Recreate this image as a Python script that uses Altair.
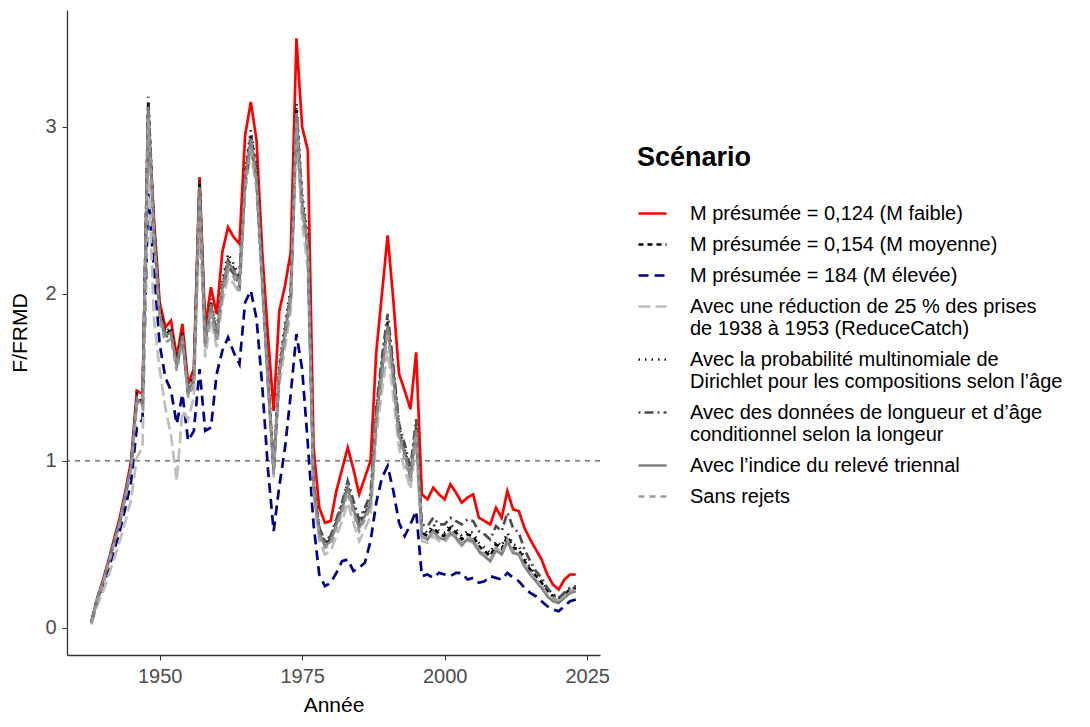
import altair as alt
import pandas as pd

years = list(range(1938, 2024))

scenarios = [
    "M présumée = 0,124 (M faible)",
    "M présumée = 0,154 (M moyenne)",
    "M présumée = 184 (M élevée)",
    "Avec une réduction de 25 % des prises|\u00a0de 1938 à 1953 (ReduceCatch)",
    "Avec la probabilité multinomiale de|Dirichlet pour les compositions selon l’âge",
    "Avec des données de longueur et d’âge|\u00a0conditionnel selon la longeur",
    "Avec l’indice du relevé triennal",
    "Sans rejets",
]
colors = ["#ff0000", "#000000", "#00008b", "#bebebe", "#1a1a1a", "#4d4d4d", "#7f7f7f", "#9a9a9a"]
dashes = [[1, 0], [5, 4], [10, 6], [12, 5], [1.5, 5], [2, 4, 9, 4], [1, 0], [6, 5]]

m_faible = [
    0.03, 0.17, 0.28, 0.40, 0.53, 0.66, 0.82, 1.00, 1.42, 1.40,
    3.05, 2.45, 1.95, 1.80, 1.84, 1.62, 1.82, 1.46, 1.55, 2.70,
    1.80, 2.04, 1.88, 2.25, 2.40, 2.34, 2.30, 2.95, 3.15, 2.92,
    2.25, 1.75, 1.30, 1.90, 2.05, 2.25, 3.53, 3.00, 2.86, 1.08,
    0.72, 0.63, 0.64, 0.82, 0.95, 1.08, 0.95, 0.80, 0.90, 1.00,
    1.65, 2.00, 2.35, 1.96, 1.52, 1.42, 1.31, 1.65, 0.80, 0.77,
    0.84, 0.80, 0.77, 0.86, 0.81, 0.75, 0.78, 0.80, 0.66, 0.64,
    0.62, 0.72, 0.66, 0.82, 0.71, 0.70, 0.60, 0.53, 0.47, 0.41,
    0.32, 0.26, 0.23, 0.29, 0.32, 0.32,
]
m_moyenne = [
    0.03, 0.17, 0.27, 0.39, 0.51, 0.64, 0.80, 0.97, 1.38, 1.35,
    3.15, 2.40, 1.90, 1.76, 1.78, 1.58, 1.76, 1.42, 1.50, 2.66,
    1.72, 1.95, 1.75, 2.05, 2.20, 2.15, 2.08, 2.70, 2.95, 2.72,
    2.10, 1.50, 0.95, 1.55, 1.78, 2.00, 3.10, 2.55, 2.30, 0.85,
    0.58, 0.50, 0.53, 0.63, 0.72, 0.85, 0.72, 0.61, 0.68, 0.75,
    1.27, 1.56, 1.83, 1.52, 1.17, 1.05, 0.91, 1.20, 0.57, 0.55,
    0.60, 0.56, 0.55, 0.60, 0.57, 0.53, 0.56, 0.55, 0.49, 0.46,
    0.43, 0.50, 0.47, 0.55, 0.48, 0.47, 0.40, 0.35, 0.31, 0.27,
    0.22, 0.19, 0.17, 0.20, 0.23, 0.24,
]
m_elevee = [
    0.03, 0.15, 0.24, 0.35, 0.46, 0.58, 0.72, 0.88, 1.20, 1.25,
    2.60, 2.15, 1.70, 1.50, 1.42, 1.22, 1.40, 1.12, 1.18, 1.55,
    1.18, 1.20, 1.52, 1.66, 1.74, 1.65, 1.58, 1.95, 2.02, 1.85,
    1.45, 0.95, 0.58, 0.85, 1.08, 1.40, 1.76, 1.55, 1.10, 0.62,
    0.32, 0.25, 0.27, 0.33, 0.40, 0.41, 0.34, 0.36, 0.39, 0.52,
    0.75, 0.90, 0.97, 0.82, 0.63, 0.55, 0.62, 0.70, 0.31, 0.32,
    0.30, 0.33, 0.32, 0.31, 0.33, 0.33, 0.29, 0.30, 0.27, 0.28,
    0.31, 0.30, 0.29, 0.33, 0.30, 0.28, 0.24, 0.21, 0.19, 0.16,
    0.13, 0.11, 0.10, 0.13, 0.16, 0.17,
]
reduce_catch = [
    0.02, 0.13, 0.21, 0.31, 0.41, 0.52, 0.64, 0.77, 1.02, 1.08,
    2.75, 1.85, 1.55, 1.32, 1.15, 0.88, 1.30, 1.25, 1.38, 2.45,
    1.62, 1.85, 1.68, 1.95, 2.10, 2.06, 2.00, 2.62, 2.85, 2.62,
    2.02, 1.45, 0.90, 1.45, 1.68, 1.90, 2.95, 2.42, 2.15, 0.80,
    0.52, 0.44, 0.46, 0.55, 0.64, 0.75, 0.63, 0.52, 0.59, 0.67,
    1.15, 1.42, 1.66, 1.38, 1.07, 0.95, 0.83, 1.10, 0.52, 0.51,
    0.55, 0.52, 0.51, 0.56, 0.53, 0.49, 0.52, 0.51, 0.45, 0.43,
    0.40, 0.46, 0.44, 0.51, 0.45, 0.44, 0.37, 0.33, 0.29, 0.25,
    0.20, 0.18, 0.16, 0.19, 0.21, 0.22,
]
dirichlet = [
    0.03, 0.17, 0.27, 0.39, 0.52, 0.65, 0.81, 0.98, 1.40, 1.36,
    3.18, 2.42, 1.92, 1.77, 1.80, 1.60, 1.78, 1.43, 1.52, 2.68,
    1.74, 1.97, 1.77, 2.08, 2.24, 2.18, 2.10, 2.74, 2.98, 2.76,
    2.14, 1.53, 0.97, 1.58, 1.82, 2.04, 3.14, 2.60, 2.34, 0.88,
    0.60, 0.51, 0.54, 0.64, 0.74, 0.87, 0.74, 0.63, 0.70, 0.77,
    1.30, 1.59, 1.86, 1.55, 1.20, 1.07, 0.93, 1.22, 0.59, 0.57,
    0.62, 0.58, 0.57, 0.62, 0.59, 0.55, 0.58, 0.57, 0.51, 0.48,
    0.45, 0.52, 0.49, 0.57, 0.50, 0.49, 0.42, 0.36, 0.32, 0.28,
    0.23, 0.20, 0.18, 0.21, 0.24, 0.25,
]
longueur_age = [
    0.03, 0.16, 0.26, 0.38, 0.50, 0.63, 0.79, 0.96, 1.36, 1.33,
    3.10, 2.36, 1.87, 1.74, 1.76, 1.56, 1.74, 1.40, 1.48, 2.62,
    1.70, 1.92, 1.73, 2.02, 2.17, 2.12, 2.05, 2.66, 2.90, 2.68,
    2.08, 1.48, 0.94, 1.53, 1.76, 1.98, 3.05, 2.52, 2.28, 0.86,
    0.60, 0.52, 0.55, 0.65, 0.75, 0.88, 0.76, 0.65, 0.72, 0.80,
    1.32, 1.62, 1.88, 1.57, 1.22, 1.10, 0.96, 1.25, 0.62, 0.61,
    0.66, 0.62, 0.62, 0.66, 0.64, 0.62, 0.65, 0.64, 0.58, 0.56,
    0.53, 0.61, 0.58, 0.69, 0.60, 0.57, 0.47, 0.40, 0.34, 0.30,
    0.24, 0.20, 0.18, 0.21, 0.24, 0.25,
]
triennal = [
    0.03, 0.17, 0.27, 0.39, 0.51, 0.64, 0.80, 0.97, 1.37, 1.34,
    3.12, 2.38, 1.88, 1.75, 1.77, 1.57, 1.75, 1.41, 1.49, 2.64,
    1.71, 1.94, 1.74, 2.04, 2.19, 2.14, 2.07, 2.69, 2.93, 2.70,
    2.09, 1.49, 0.94, 1.54, 1.77, 1.99, 3.08, 2.54, 2.29, 0.84,
    0.57, 0.49, 0.52, 0.62, 0.71, 0.84, 0.71, 0.60, 0.67, 0.74,
    1.25, 1.54, 1.81, 1.50, 1.16, 1.04, 0.90, 1.19, 0.55, 0.53,
    0.58, 0.54, 0.53, 0.57, 0.54, 0.50, 0.53, 0.52, 0.46, 0.43,
    0.40, 0.47, 0.44, 0.52, 0.45, 0.44, 0.37, 0.32, 0.28, 0.24,
    0.19, 0.16, 0.15, 0.18, 0.21, 0.22,
]
sans_rejets = [
    0.03, 0.16, 0.26, 0.38, 0.50, 0.62, 0.78, 0.95, 1.34, 1.31,
    3.05, 2.33, 1.85, 1.71, 1.73, 1.54, 1.72, 1.38, 1.46, 2.58,
    1.68, 1.90, 1.71, 2.00, 2.14, 2.10, 2.02, 2.63, 2.88, 2.65,
    2.05, 1.46, 0.92, 1.51, 1.73, 1.95, 3.02, 2.50, 2.25, 0.82,
    0.55, 0.48, 0.50, 0.60, 0.69, 0.81, 0.69, 0.58, 0.65, 0.72,
    1.22, 1.50, 1.77, 1.47, 1.13, 1.01, 0.88, 1.16, 0.55, 0.53,
    0.58, 0.54, 0.53, 0.58, 0.55, 0.51, 0.54, 0.53, 0.47, 0.44,
    0.41, 0.48, 0.45, 0.53, 0.46, 0.45, 0.38, 0.33, 0.29, 0.25,
    0.20, 0.18, 0.16, 0.19, 0.22, 0.23,
]

series = [m_faible, m_moyenne, m_elevee, reduce_catch, dirichlet,
          longueur_age, triennal, sans_rejets]

rows = []
for i, (name, vals) in enumerate(zip(scenarios, series)):
    for y, v in zip(years, vals):
        rows.append({"year": y, "value": v, "scenario": name, "order": i})
df = pd.DataFrame(rows)

FONT = "Liberation Sans"

legend = alt.Legend(
    title="Scénario", orient="none", legendX=570, legendY=135,
    titleFontSize=27, titleFont=FONT, titleFontWeight="bold", titleColor="black",
    titlePadding=26, labelFontSize=20, labelFont=FONT, labelColor="black",
    labelLimit=1000, symbolType="stroke", symbolSize=784, symbolStrokeWidth=2.7,
    labelOffset=22, rowPadding=5, labelExpr="split(datum.label, '|')",
)

xs = alt.Scale(domain=[1933.75, 2027.25], nice=False, zero=False)
ys = alt.Scale(domain=[-0.162, 3.70], nice=False, zero=False)

x_axis = alt.Axis(values=[1950, 1975, 2000, 2025], format="d", title="Année", grid=False,
                  labelFontSize=20, labelColor="#4d4d4d", labelFont=FONT,
                  titleFontSize=21, titleFontWeight="normal", titleColor="black", titleFont=FONT,
                  domainColor="#333333", domainWidth=1.3, tickColor="#333333", tickSize=5,
                  labelPadding=6, titlePadding=8)
y_axis = alt.Axis(values=[0, 1, 2, 3], format="d", title="F/FRMD", grid=False,
                  labelFontSize=20, labelColor="#4d4d4d", labelFont=FONT,
                  titleFontSize=21, titleFontWeight="normal", titleColor="black", titleFont=FONT,
                  domainColor="#333333", domainWidth=1.3, tickColor="#333333", tickSize=5,
                  labelPadding=6, titlePadding=14)

rule = alt.Chart(pd.DataFrame({"v": [1]})).mark_rule(
    color="#555555", strokeDash=[5, 5], strokeWidth=1.3
).encode(y=alt.Y("v:Q", scale=ys, axis=y_axis))

lines = alt.Chart(df).mark_line(strokeWidth=2.7, strokeCap="butt").encode(
    x=alt.X("year:Q", scale=xs, axis=x_axis),
    y=alt.Y("value:Q", scale=ys, axis=y_axis),
    color=alt.Color("scenario:N", scale=alt.Scale(domain=scenarios, range=colors),
                    sort=scenarios, legend=legend),
    strokeDash=alt.StrokeDash("scenario:N", scale=alt.Scale(domain=scenarios, range=dashes),
                              sort=scenarios, legend=legend),
    order=alt.Order("year:Q"),
    detail="order:O",
)

chart = alt.layer(rule, lines).properties(
    width=533, height=645,
    autosize=alt.AutoSizeParams(type="none"),
    padding={"left": 67, "top": 10, "right": 490, "bottom": 72},
).configure(font=FONT, background="white").configure_view(strokeWidth=0)

chart.save("out.html", embed_options={"renderer": "svg", "actions": False})
